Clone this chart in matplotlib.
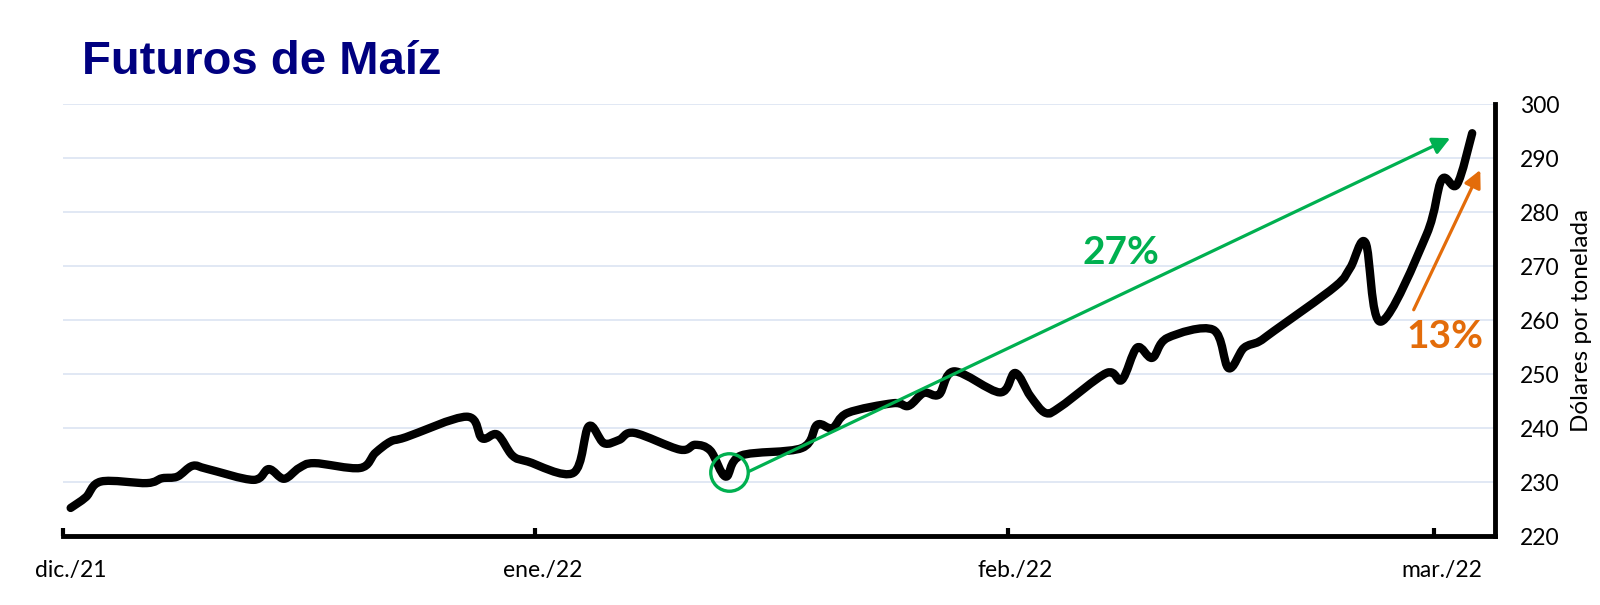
import matplotlib.pyplot as plt
import matplotlib.dates as mdates
from matplotlib.path import Path
from matplotlib.patches import PathPatch
import numpy as np
import pandas as pd

# precio de cierre, futuros de maiz (USD por tonelada)
fechas = [
    "2021-12-01", "2021-12-02", "2021-12-03", "2021-12-06", "2021-12-07", "2021-12-08",
    "2021-12-09", "2021-12-10", "2021-12-13", "2021-12-14", "2021-12-15", "2021-12-16",
    "2021-12-17", "2021-12-20", "2021-12-21", "2021-12-22", "2021-12-23", "2021-12-27",
    "2021-12-28", "2021-12-29", "2021-12-30", "2021-12-31",
    "2022-01-03", "2022-01-04", "2022-01-05", "2022-01-06", "2022-01-07", "2022-01-10",
    "2022-01-11", "2022-01-12", "2022-01-13", "2022-01-14", "2022-01-18", "2022-01-19",
    "2022-01-20", "2022-01-21", "2022-01-24", "2022-01-25", "2022-01-26", "2022-01-27",
    "2022-01-28", "2022-01-31",
    "2022-02-01", "2022-02-02", "2022-02-03", "2022-02-04", "2022-02-07", "2022-02-08",
    "2022-02-09", "2022-02-10", "2022-02-11", "2022-02-14", "2022-02-15", "2022-02-16",
    "2022-02-17", "2022-02-18", "2022-02-22", "2022-02-23", "2022-02-24", "2022-02-25",
    "2022-02-28", "2022-03-01", "2022-03-02", "2022-03-03",
]
precios = [
    225.2, 227.2, 230.1, 229.8, 230.7, 231.0,
    233.0, 232.4, 230.4, 232.4, 230.6, 232.6,
    233.5, 232.6, 235.4, 237.5, 238.3, 242.1,
    238.1, 238.8, 234.9, 233.8,
    231.7, 240.3, 237.2, 237.8, 239.1, 236.0,
    236.9, 235.8, 231.0, 234.9, 236.3, 240.6,
    240.0, 242.8, 244.6, 244.1, 246.5, 246.2,
    250.5, 246.6,
    250.2, 245.9, 242.8, 244.0, 250.2, 248.9,
    254.9, 253.0, 256.7, 258.2, 251.1, 254.8,
    256.0, 258.0, 266.2, 269.7, 274.3, 259.7,
    275.8, 286.0, 285.1, 294.6,
]
meses = ["2021-12-01", "2022-01-01", "2022-02-01", "2022-03-01"]
etiquetas_mes = ["dic./21", "ene./22", "feb./22", "mar./22"]

verde = "#00b050"
naranja = "#e36c0a"

plt.rcParams['font.family'] = ['Lato', 'DejaVu Sans']

fig = plt.figure(figsize=(16, 6.05), dpi=100)
ax = fig.add_axes([0.0394, 0.114, 0.8950, 0.714])

# cada dia ocupa una franja; el punto va al centro (como en Excel)
x = mdates.date2num(pd.to_datetime(fechas)) + 0.5
y = np.array(precios)
x0 = mdates.date2num(pd.Timestamp("2021-12-01"))

# linea suavizada con curvas bezier
pts = np.column_stack([x, y])
verts = [pts[0]]
codes = [Path.MOVETO]
n = len(pts)
for i in range(n - 1):
    p_prev = pts[i - 1] if i > 0 else pts[i]
    p_next2 = pts[i + 2] if i + 2 < n else pts[i + 1]
    c1 = pts[i] + (pts[i + 1] - p_prev) / 6
    c2 = pts[i + 1] - (p_next2 - pts[i]) / 6
    verts += [c1, c2, pts[i + 1]]
    codes += [Path.CURVE4] * 3
ax.add_patch(PathPatch(Path(verts, codes), facecolor="none", edgecolor="black",
                       lw=6, capstyle="round", joinstyle="round", zorder=3))

ax.set_xlim(x0, x0 + 94)
ax.set_ylim(220, 300)
ax.set_yticks(range(220, 301, 10))
ax.grid(axis="y", color="#dce4f2", lw=1.2)
ax.set_axisbelow(True)

ax.xaxis.set_major_locator(plt.FixedLocator(mdates.date2num(pd.to_datetime(meses))))
ax.xaxis.set_major_formatter(plt.NullFormatter())
ax.xaxis.set_minor_locator(plt.FixedLocator(mdates.date2num(pd.to_datetime(meses)) + 0.5))
ax.xaxis.set_minor_formatter(plt.FixedFormatter(etiquetas_mes))
ax.tick_params(axis="x", which="major", direction="in", length=6, width=3, color="black")
ax.tick_params(axis="x", which="minor", length=0, pad=17, labelsize=16.5)

ax.yaxis.tick_right()
ax.yaxis.set_label_position("right")
ax.tick_params(axis="y", length=0, pad=18, labelsize=16.5)
ax.set_ylabel("Dólares por tonelada", fontsize=17.5, labelpad=8)

for s in ["left", "top"]:
    ax.spines[s].set_visible(False)
for s in ["bottom", "right"]:
    ax.spines[s].set_linewidth(3.5)

# circulo en el minimo de enero
ax.plot([x0 + 43.7], [231.8], marker="o", ms=27, mfc="none", mec=verde, mew=2.4,
        zorder=4, clip_on=False)

ax.annotate("", xy=(x0 + 91.06, 293.7), xytext=(x0 + 45.05, 232.0),
            arrowprops=dict(arrowstyle="-|>", color=verde, lw=2.3,
                            mutation_scale=26, shrinkA=0, shrinkB=0), zorder=4)
ax.annotate("", xy=(x0 + 93.03, 287.8), xytext=(x0 + 88.66, 261.9),
            arrowprops=dict(arrowstyle="-|>", color=naranja, lw=2.3,
                            mutation_scale=26, shrinkA=0, shrinkB=0), zorder=4)
ax.text(x0 + 69.44, 272.6, "27%", color=verde, fontsize=28, fontweight="bold",
        ha="center", va="center")
ax.text(x0 + 90.7, 256.9, "13%", color=naranja, fontsize=28, fontweight="bold",
        ha="center", va="center")

fig.text(0.051, 0.878, "Futuros de Maíz", family="Liberation Sans", fontweight="bold",
         fontsize=34, color="#000080", ha="left", va="baseline")

fig.savefig("out.png", dpi=100)
